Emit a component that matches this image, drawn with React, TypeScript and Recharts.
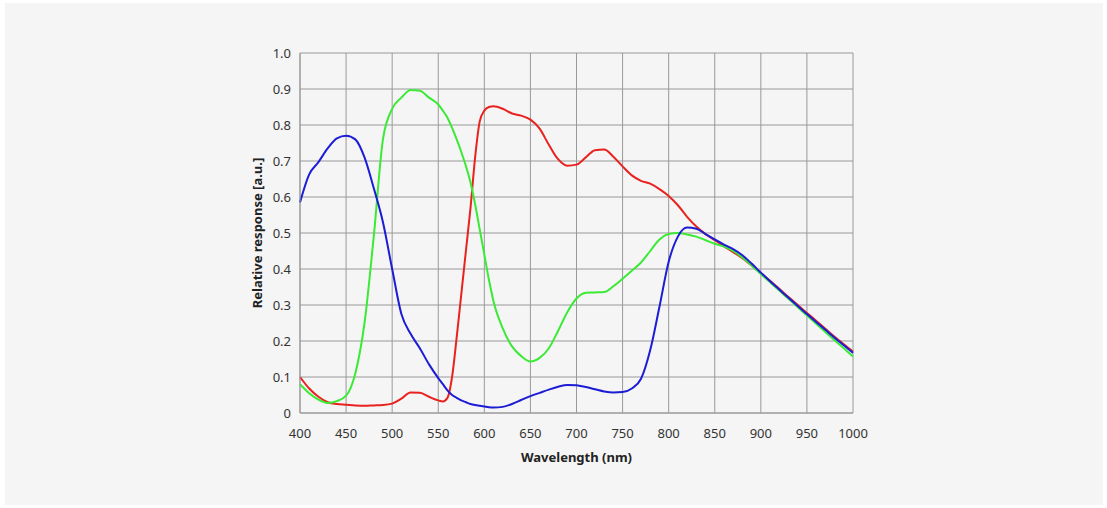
import { LineChart, Line, XAxis, YAxis, CartesianGrid, Label } from "recharts"

const wavelengths = [
  400, 410, 420, 430, 440, 450, 460, 470, 480, 490, 500, 510, 520, 530, 540, 550,
  555, 560, 565, 570, 575, 580, 585, 590, 595, 600, 605,
  610, 620, 630, 640, 650, 660, 670, 680, 690, 700, 710, 720, 730, 740, 750, 760,
  770, 780, 790, 800, 810, 820, 830, 840, 850, 860, 870, 880, 890, 900, 910, 920,
  930, 940, 950, 960, 970, 980, 990, 1000,
]

const redResponse = [
  0.1, 0.068, 0.045, 0.03, 0.025, 0.023, 0.021, 0.02, 0.021, 0.022, 0.026, 0.04, 0.057, 0.056, 0.045, 0.035,
  0.032, 0.042, 0.1, 0.21, 0.33, 0.45, 0.57, 0.71, 0.81, 0.84, 0.85,
  0.852, 0.845, 0.832, 0.826, 0.815, 0.79, 0.745, 0.705, 0.687, 0.69, 0.71, 0.73, 0.732, 0.712, 0.685, 0.66,
  0.645, 0.637, 0.622, 0.603, 0.577, 0.545, 0.518, 0.497, 0.48, 0.463, 0.447, 0.43, 0.41, 0.389, 0.367, 0.345,
  0.322, 0.3, 0.278, 0.256, 0.234, 0.212, 0.191, 0.17,
]

const greenResponse = [
  0.08, 0.055, 0.037, 0.028, 0.033, 0.048, 0.11, 0.25, 0.49, 0.76, 0.845, 0.876, 0.897, 0.895, 0.876, 0.857,
  0.84, 0.82, 0.792, 0.76, 0.725, 0.686, 0.64, 0.58, 0.51, 0.44, 0.37,
  0.31, 0.235, 0.185, 0.158, 0.143, 0.153, 0.18, 0.228, 0.28, 0.318, 0.334, 0.335, 0.336, 0.352, 0.373, 0.395,
  0.418, 0.45, 0.482, 0.497, 0.5, 0.496, 0.49, 0.48, 0.47, 0.462, 0.45, 0.432, 0.41, 0.386, 0.363, 0.34,
  0.317, 0.294, 0.271, 0.248, 0.225, 0.202, 0.18, 0.157,
]

const blueResponse = [
  0.585, 0.663, 0.697, 0.735, 0.763, 0.77, 0.76, 0.71, 0.625, 0.53, 0.4, 0.275, 0.22, 0.18, 0.135, 0.097,
  0.08, 0.063, 0.05, 0.042, 0.035, 0.03, 0.025, 0.022, 0.02, 0.018, 0.016,
  0.015, 0.017, 0.025, 0.036, 0.047, 0.056, 0.065, 0.073, 0.078, 0.077, 0.072, 0.066, 0.06, 0.057, 0.058, 0.068,
  0.095, 0.175, 0.295, 0.42, 0.49, 0.515, 0.512, 0.497, 0.482, 0.468, 0.455, 0.438, 0.415, 0.39, 0.366, 0.343,
  0.32, 0.297, 0.275, 0.253, 0.231, 0.209, 0.188, 0.167,
]

const xTicks = [400, 450, 500, 550, 600, 650, 700, 750, 800, 850, 900, 950, 1000]
const yTicks = [0, 0.1, 0.2, 0.3, 0.4, 0.5, 0.6, 0.7, 0.8, 0.9, 1]

const FONT = "'Noto Sans', 'Open Sans', sans-serif"
const tickStyle = { fill: "#333", fontSize: 13, fontFamily: FONT }

export default function App() {
  const data = wavelengths.map((nm, i) => ({
    nm,
    red: redResponse[i],
    green: greenResponse[i],
    blue: blueResponse[i],
  }))

  return (
    <div style={{ position: "absolute", left: 0, top: 0, width: 1107, height: 508, background: "#fff" }}>
      <div style={{ position: "absolute", left: 5, top: 3, width: 1098, height: 502, background: "#f5f5f5" }} />
      <div style={{ position: "absolute", left: 0, top: 0 }}>
        <LineChart
          width={1107}
          height={508}
          data={data}
          margin={{ top: 53, right: 254, bottom: 65, left: 0 }}
        >
          <CartesianGrid stroke="#999" strokeWidth={1} />
          <XAxis
            dataKey="nm"
            type="number"
            domain={[400, 1000]}
            ticks={xTicks}
            interval={0}
            height={30}
            tick={tickStyle}
            tickLine={false}
            axisLine={{ stroke: "#999" }}
            tickMargin={10}
          >
            <Label
              value="Wavelength (nm)"
              position="insideBottom"
              offset={-19}
              style={{ fill: "#222", fontSize: 13, fontWeight: 700, fontFamily: FONT }}
            />
          </XAxis>
          <YAxis
            type="number"
            domain={[0, 1]}
            ticks={yTicks}
            interval={0}
            width={300}
            tick={tickStyle}
            tickLine={false}
            axisLine={{ stroke: "#999" }}
            tickMargin={3}
            tickFormatter={(v: number) => (v === 0 ? "0" : v.toFixed(1))}
          >
            <Label
              value="Relative response [a.u.]"
              angle={-90}
              position="insideRight"
              offset={43}
              style={{ fill: "#222", fontSize: 13, fontWeight: 700, fontFamily: FONT, textAnchor: "middle" }}
            />
          </YAxis>
          <Line type="monotone" dataKey="red" stroke="#e8221e" strokeWidth={2} dot={false} isAnimationActive={false} />
          <Line type="monotone" dataKey="green" stroke="#3aea35" strokeWidth={2} dot={false} isAnimationActive={false} />
          <Line type="monotone" dataKey="blue" stroke="#1c1cd6" strokeWidth={2} dot={false} isAnimationActive={false} />
        </LineChart>
      </div>
    </div>
  )
}
